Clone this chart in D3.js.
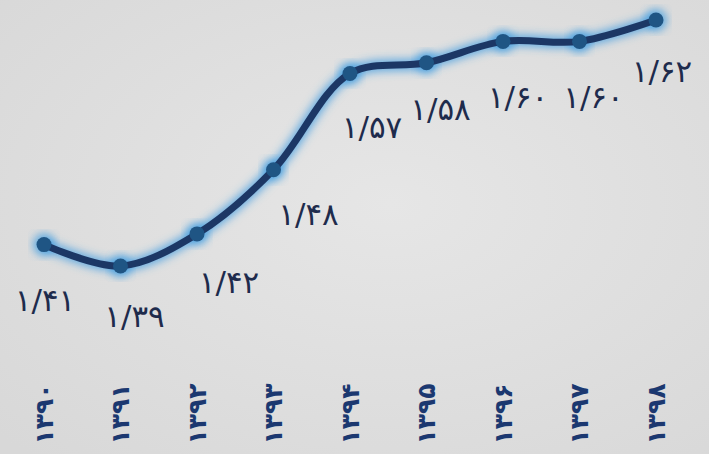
<!DOCTYPE html>
<html><head><meta charset="utf-8">
<script src="https://cdn.jsdelivr.net/npm/d3@7/dist/d3.min.js"></script>
<style>html,body{margin:0;padding:0;overflow:hidden;background:#dcdcdc}</style>
</head><body>
<script>
const years = ["۱۳۹۰","۱۳۹۱","۱۳۹۲","۱۳۹۳","۱۳۹۴","۱۳۹۵","۱۳۹۶","۱۳۹۷","۱۳۹۸"];
const values = [1.41,1.39,1.42,1.48,1.57,1.58,1.60,1.60,1.62];
const valueLabels = ["۱/۴۱","۱/۳۹","۱/۴۲","۱/۴۸","۱/۵۷","۱/۵۸","۱/۶۰","۱/۶۰","۱/۶۲"];
// label offsets relative to each point (styling)
const labelDx = [1,14,32,35,22,14,15,14,6];
const labelDy = [55,50,48,44,54,46,56,56,51];

const W=709,H=454;
const svg=d3.select("body").append("svg").attr("width",W).attr("height",H);
const defs=svg.append("defs");
const rg=defs.append("radialGradient").attr("id","bg").attr("cx","55%").attr("cy","45%").attr("r","75%");
rg.append("stop").attr("offset","0%").attr("stop-color","#e6e6e6");
rg.append("stop").attr("offset","100%").attr("stop-color","#d8d8d8");
const f=defs.append("filter").attr("id","glow").attr("x","-20%").attr("y","-20%").attr("width","140%").attr("height","140%");
f.append("feGaussianBlur").attr("stdDeviation",4);
svg.append("rect").attr("width",W).attr("height",H).attr("fill","url(#bg)");

const x=d3.scalePoint().domain(years).range([44,656]);
const y=d3.scaleLinear().domain([1.39,1.62]).range([266,20]);
const data=years.map((d,i)=>({year:d,v:values[i],label:valueLabels[i],dx:labelDx[i],dy:labelDy[i]}));

const line=d3.line().x(d=>x(d.year)).y(d=>y(d.v)).curve(d3.curveCatmullRom.alpha(0.5));
svg.append("path").datum(data).attr("d",line).attr("fill","none")
  .attr("stroke","#3d9be0").attr("stroke-width",12).attr("stroke-opacity",0.75).attr("filter","url(#glow)");
svg.append("g").selectAll("circle").data(data).join("circle")
  .attr("cx",d=>x(d.year)).attr("cy",d=>y(d.v)).attr("r",11)
  .attr("fill","#3d9be0").attr("opacity",0.75).attr("filter","url(#glow)");
svg.append("path").datum(data).attr("d",line).attr("fill","none")
  .attr("stroke","#1c3765").attr("stroke-width",7).attr("stroke-linecap","round");
svg.append("g").selectAll("circle").data(data).join("circle")
  .attr("cx",d=>x(d.year)).attr("cy",d=>y(d.v)).attr("r",7.5)
  .attr("fill","#1f5584");

svg.append("g").selectAll("text").data(data).join("text")
  .attr("x",d=>x(d.year)+d.dx).attr("y",d=>y(d.v)+d.dy)
  .attr("text-anchor","middle").attr("dominant-baseline","central")
  .attr("font-family","DejaVu Sans").attr("font-size",31).attr("fill","#1e2b4c")
  .text(d=>d.label);

const xa=svg.append("g").attr("transform","translate(0,414)");
xa.selectAll("text").data(years).join("text")
  .attr("transform",d=>`translate(${x(d)},0) rotate(-90)`)
  .attr("text-anchor","middle").attr("dominant-baseline","central")
  .attr("font-family","DejaVu Sans").attr("font-weight","bold").attr("font-size",25).attr("fill","#1b3870")
  .text(d=>d);
</script>
</body></html>
